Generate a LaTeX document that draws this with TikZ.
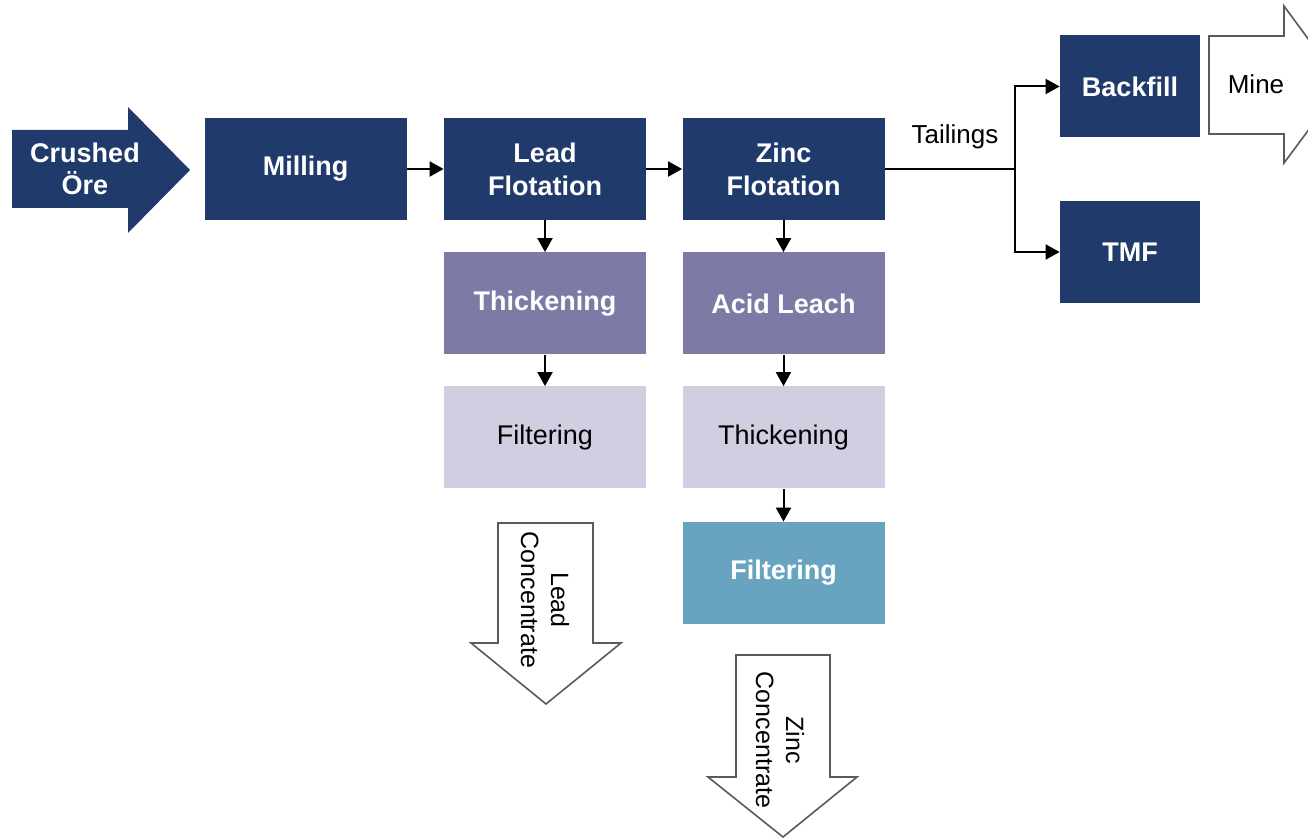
\documentclass[tikz,border=0pt]{standalone}
\usepackage{fontspec}
\setmainfont{Liberation Sans}
\usetikzlibrary{arrows.meta}
\definecolor{navy}{HTML}{203A6C}
\definecolor{purp}{HTML}{7B7BA6}
\definecolor{lite}{HTML}{CFCFE1}
\definecolor{teal}{HTML}{68A3C0}
\definecolor{edge}{HTML}{5A5A5A}
\tikzset{
  box/.style={rectangle, inner sep=0pt, minimum width=101pt, minimum height=51pt, align=center,
    font=\fontsize{13.5}{16.5}\selectfont\bfseries, text=white},
  darkbox/.style={box, fill=navy},
  purpbox/.style={box, fill=purp},
  litebox/.style={box, fill=lite, text=black, font=\fontsize{13.5}{16.5}\selectfont},
  tealbox/.style={box, fill=teal},
  smallbox/.style={darkbox, minimum width=70pt},
  conn/.style={line width=1pt, -{Triangle[length=7pt,width=7.5pt]}},
  bigarrow/.style={draw=edge, line width=0.8pt, fill=white, line join=miter},
  lbl/.style={font=\fontsize{13}{15.5}\selectfont, align=center}
}
\begin{document}
\begin{tikzpicture}[x=0.5pt,y=-0.5pt]
\useasboundingbox (0,0) rectangle (1308,839);
\fill[white] (0,0) rectangle (1308,839);
% crushed ore arrow
\fill[navy] (12,130) -- (128,130) -- (128,107) -- (190,170) -- (128,233) -- (128,208) -- (12,208) -- cycle;
\node[font=\fontsize{13.5}{16}\selectfont\bfseries, text=white, align=center] (ore) at (85,169) {Crushed\\Öre};
% main boxes
\node[darkbox] (mill) at (305.5,169) {Milling};
\node[darkbox] (lf) at (545,169) {Lead\\Flotation};
\node[darkbox] (zf) at (783.5,169) {Zinc\\Flotation};
\node[purpbox] (lt) at (545,303.5) {Thickening};
\node[litebox] (lfi) at (545,437.5) {Filtering};
\node[purpbox] (al) at (783.5,303.5) {Acid Leach};
\node[litebox] (zt) at (783.5,437.5) {Thickening};
\node[tealbox] (zfi) at (783.5,573) {Filtering};
\node[smallbox] (bf) at (1130,86.5) {Backfill};
\node[smallbox] (tmf) at (1130,252) {TMF};
% connectors
\draw[conn] (mill.east) -- (lf.west);
\draw[conn] (lf.east) -- (zf.west);
\draw[conn] (lf.south) -- (lt.north);
\draw[conn] (lt.south) -- (lfi.north);
\draw[conn] (zf.south) -- (al.north);
\draw[conn] (al.south) -- (zt.north);
\draw[conn] (zt.south) -- (zfi.north);
\coordinate (split) at (1015,169);
\draw[line width=1pt] (zf.east) -- (split);
\draw[conn] (split) |- (bf.west);
\draw[conn] (split) |- (tmf.west);
\node[lbl] (tail) at (955,137) {Tailings};
% mine arrow
\begin{scope}
\clip (0,0) rectangle (1308,839);
\draw[bigarrow] (1209,36) -- (1284,36) -- (1284,6) -- (1342,85) -- (1284,163) -- (1284,134) -- (1209,134) -- cycle;
\end{scope}
\node[lbl] (mine) at (1256,84) {Mine};
% concentrate arrows
\draw[bigarrow] (498,523) -- (593,523) -- (593,643) -- (621,643) -- (546,704) -- (471,643) -- (498,643) -- cycle;
\node[font=\fontsize{12.5}{15}\selectfont, align=center, rotate=-90] (lc) at (545,600) {Lead\\Concentrate};
\draw[bigarrow] (736,655) -- (830,655) -- (830,777) -- (857,777) -- (783,837) -- (708,777) -- (736,777) -- cycle;
\node[font=\fontsize{12.5}{15}\selectfont, align=center, rotate=-90] (zc) at (780,740) {Zinc\\Concentrate};
\end{tikzpicture}
\end{document}
